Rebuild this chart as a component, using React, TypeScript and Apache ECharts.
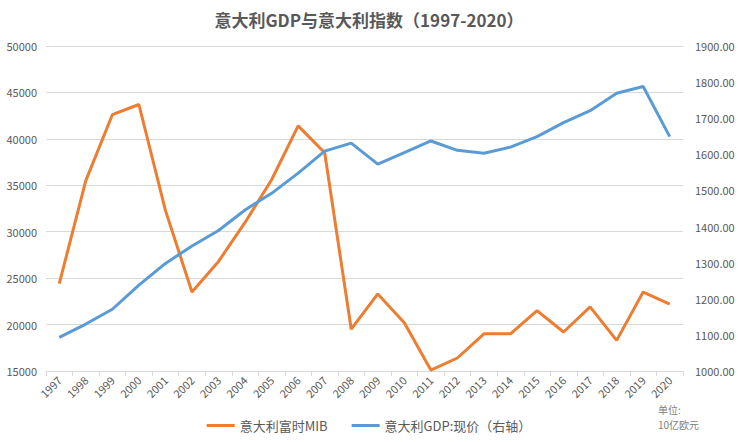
import React, { useEffect, useRef } from "react";
import * as echarts from "echarts";

const years = ["1997","1998","1999","2000","2001","2002","2003","2004","2005","2006","2007","2008","2009","2010","2011","2012","2013","2014","2015","2016","2017","2018","2019","2020"];
const mib = [24400,35500,42600,43700,32300,23500,26800,31000,35600,41400,38500,19500,23300,20200,15100,16400,19000,19000,21500,19200,21900,18300,23500,22200];
const gdp = [1093,1130,1171,1238,1298,1346,1389,1446,1492,1548,1609,1631,1573,1605,1637,1611,1603,1620,1649,1688,1721,1769,1788,1649];

const titleText = "意大利GDP与意大利指数（1997-2020）";
const mibName = "意大利富时MIB";
const gdpName = "意大利GDP:现价（右轴）";
const unitText = "单位:\n10亿欧元";

const FONT = "'Noto Sans CJK SC', 'Noto Sans', sans-serif";
const TXT = "#595959";

export default function App() {
  const ref = useRef<HTMLDivElement>(null);
  useEffect(() => {
    if (!ref.current) return;
    const chart = echarts.init(ref.current, undefined, { renderer: "svg" });
    chart.setOption({
      animation: false,
      backgroundColor: "#ffffff",
      textStyle: { fontFamily: FONT },
      title: {
        text: titleText,
        left: "center",
        top: 6,
        textStyle: { fontSize: 17, fontWeight: "bold", color: TXT, fontFamily: FONT },
      },
      legend: {
        bottom: 5,
        left: "center",
        itemGap: 24,
        itemWidth: 28,
        itemHeight: 3,
        icon: "rect",
        textStyle: { fontSize: 13, color: TXT, fontFamily: FONT },
        data: [mibName, gdpName],
      },
      graphic: [
        {
          type: "text",
          left: 658,
          top: 402,
          style: { text: unitText, fontSize: 10, lineHeight: 15, fill: "#808080", fontFamily: FONT },
        },
      ],
      grid: { left: 46, right: 55, top: 46, bottom: 71 },
      xAxis: {
        type: "category",
        data: years,
        boundaryGap: true,
        axisLine: { lineStyle: { color: "#d9d9d9" } },
        axisTick: { show: true, lineStyle: { color: "#d9d9d9" } },
        axisLabel: { rotate: 45, fontSize: 11, color: TXT, interval: 0, margin: 7, fontFamily: FONT },
      },
      yAxis: [
        {
          type: "value",
          min: 15000,
          max: 50000,
          interval: 5000,
          axisLine: { show: false },
          axisTick: { show: false },
          splitLine: { lineStyle: { color: "#d9d9d9" } },
          axisLabel: {
            fontSize: 11,
            color: TXT,
            margin: 9,
            fontFamily: FONT,
            formatter: (v: number) => String(v),
          },
        },
        {
          type: "value",
          min: 1000,
          max: 1900,
          interval: 100,
          axisLine: { show: false },
          axisTick: { show: false },
          splitLine: { show: false },
          axisLabel: {
            fontSize: 11,
            color: TXT,
            margin: 12,
            fontFamily: FONT,
            formatter: (v: number) => v.toFixed(2),
          },
        },
      ],
      series: [
        {
          name: mibName,
          type: "line",
          data: mib,
          yAxisIndex: 0,
          symbol: "none",
          lineStyle: { color: "#ED7D31", width: 3 },
          itemStyle: { color: "#ED7D31" },
        },
        {
          name: gdpName,
          type: "line",
          data: gdp,
          yAxisIndex: 1,
          symbol: "none",
          lineStyle: { color: "#5B9BD5", width: 3 },
          itemStyle: { color: "#5B9BD5" },
        },
      ],
    });
    return () => chart.dispose();
  }, []);
  return (
    <div
      ref={ref}
      style={{ position: "fixed", left: 0, top: 0, width: 738, height: 442 }}
    />
  );
}
